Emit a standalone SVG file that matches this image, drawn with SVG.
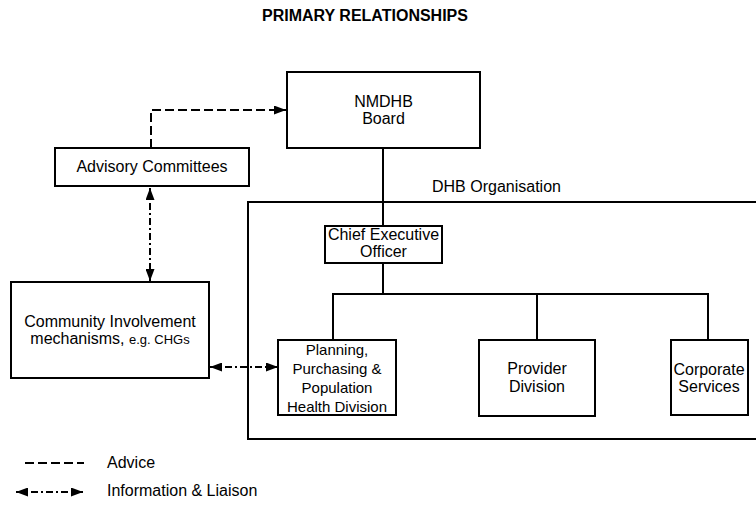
<svg xmlns="http://www.w3.org/2000/svg" width="756" height="512" viewBox="0 0 756 512">
<style>
.box{fill:#fff;stroke:#000;stroke-width:2}
.ln{fill:none;stroke:#000;stroke-width:2}
.adv{fill:none;stroke:#000;stroke-width:2;stroke-dasharray:9 4}
.info{fill:none;stroke:#000;stroke-width:2;stroke-dasharray:7 3 2 3}
text{font-family:"Liberation Sans",Arial,sans-serif;font-size:16px;fill:#000}
.c{text-anchor:middle}
.t{font-weight:bold}
.s{font-size:13px}
.p{font-size:15px}
</style>
<defs>
<marker id="ah" viewBox="0 0 12 9" refX="12" refY="4.5" markerWidth="12" markerHeight="9" markerUnits="userSpaceOnUse" orient="auto-start-reverse">
<path d="M0,0 L12,4.5 L0,9 Z" fill="#000"/>
</marker>
</defs>
<rect width="756" height="512" fill="#fff"/>
<text class="c t" x="365" y="21">PRIMARY RELATIONSHIPS</text>

<g id="dhb-organisation">
<path class="ln" d="M758,202 H248 V439 H758"/>
<text x="432" y="192">DHB Organisation</text>
</g>

<g id="connectors">
<path class="ln" d="M383,148 V226"/>
<path class="ln" d="M383,263 V294"/>
<path class="ln" d="M333,340 V294 H708 V340"/>
<path class="ln" d="M537,294 V340"/>
<path class="adv" d="M151,148 V110 H286" marker-end="url(#ah)"/>
<path class="info" d="M150,188 V281" marker-start="url(#ah)" marker-end="url(#ah)"/>
<path class="info" d="M210,367 H278" marker-start="url(#ah)" marker-end="url(#ah)"/>
</g>

<g id="board">
<rect class="box" x="287" y="72" width="193" height="76"/>
<text class="c" x="383.5" y="107">NMDHB</text>
<text class="c" x="383.5" y="124">Board</text>
</g>

<g id="advisory">
<rect class="box" x="55" y="148" width="194" height="38"/>
<text class="c" x="152" y="172">Advisory Committees</text>
</g>

<g id="community">
<rect class="box" x="11" y="282" width="198" height="96"/>
<text class="c" x="110" y="327">Community Involvement</text>
<text class="c" x="110" y="344">mechanisms, <tspan class="s">e.g. CHGs</tspan></text>
</g>

<g id="ceo">
<rect class="box" x="325" y="226" width="117" height="37"/>
<text class="c" x="383.5" y="240">Chief Executive</text>
<text class="c" x="383.5" y="257">Officer</text>
</g>

<g id="planning">
<rect class="box" x="278" y="340" width="118" height="75"/>
<text class="c p" x="337" y="355">Planning,</text>
<text class="c p" x="337" y="373.5">Purchasing &amp;</text>
<text class="c p" x="337" y="392.5">Population</text>
<text class="c p" x="337" y="411.5">Health Division</text>
</g>

<g id="provider">
<rect class="box" x="479" y="340" width="116" height="76"/>
<text class="c" x="537" y="374">Provider</text>
<text class="c" x="537" y="391.5">Division</text>
</g>

<g id="corporate">
<rect class="box" x="671" y="340" width="77" height="75"/>
<text class="c" x="709" y="375">Corporate</text>
<text class="c" x="709" y="392">Services</text>
</g>

<g id="legend">
<path class="adv" d="M25,463 H84"/>
<text x="107" y="468">Advice</text>
<path class="info" d="M16,492 H83" marker-start="url(#ah)" marker-end="url(#ah)"/>
<text x="107" y="496">Information &amp; Liaison</text>
</g>
</svg>
